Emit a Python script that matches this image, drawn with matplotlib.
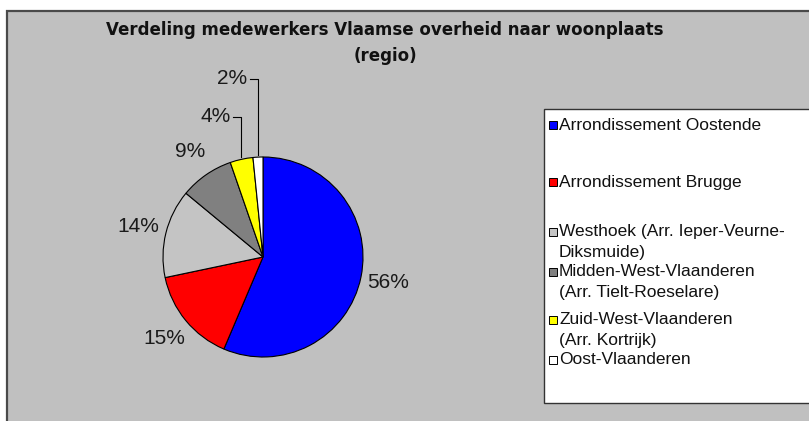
import numpy as np
import matplotlib
matplotlib.use("Agg")
import matplotlib.pyplot as plt
from matplotlib.patches import Rectangle

# data
regions = ["Arrondissement Oostende", "Arrondissement Brugge",
           "Westhoek (Arr. Ieper-Veurne-\nDiksmuide)",
           "Midden-West-Vlaanderen\n(Arr. Tielt-Roeselare)",
           "Zuid-West-Vlaanderen\n(Arr. Kortrijk)", "Oost-Vlaanderen"]
shares = [56.4, 15.3, 14.3, 8.7, 3.7, 1.6]
colors = ["#0000ff", "#ff0000", "#c4c4c4", "#808080", "#ffff00", "#ffffff"]
title1 = "Verdeling medewerkers Vlaamse overheid naar woonplaats"
title2 = "(regio)"

W, H = 809, 421
fig = plt.figure(figsize=(W / 100, H / 100), dpi=100)
fig.patch.set_facecolor("white")

def fx(px):
    return px / W

def fy(py):
    return 1 - py / H

# chart area frame (gray, cut at right/bottom)
fig.patches.append(Rectangle((fx(6.5), fy(430)), fx(820), (430 - 10.5) / H,
                             transform=fig.transFigure, facecolor="#c0c0c0",
                             edgecolor="#4a4a4a", linewidth=1.6, zorder=-5))

fig.text(fx(385), fy(30), title1, ha="center", va="center",
         fontsize=12, fontweight="bold", family="DejaVu Sans", color="#111111")
fig.text(fx(385), fy(56), title2, ha="center", va="center",
         fontsize=12, fontweight="bold", family="DejaVu Sans", color="#111111")

# pie axes: centre at (263, 257) px, radius 100 px
cx, cy, lim = 263, 257, 1.8
ax = fig.add_axes([fx(cx - lim * 100), 1 - (cy + lim * 100) / H,
                   lim * 200 / W, lim * 200 / H], zorder=2)
ax.patch.set_visible(False)

wedges, texts = ax.pie(shares, colors=colors, startangle=90, counterclock=False,
                       radius=1.0, wedgeprops=dict(edgecolor="black", linewidth=0.8))
ax.set_xlim(-lim, lim)
ax.set_ylim(-lim, lim)
ax.set_aspect("equal")
ax.axis("off")

label_font = dict(family="Liberation Sans", fontsize=15, color="#1a1a1a")
# label heights for the small slices with leader lines
leader_y = {4: 1.40, 5: 1.78}
for i, w in enumerate(wedges):
    mid = np.deg2rad((w.theta1 + w.theta2) / 2)
    txt = f"{round(shares[i]):d}%"
    if i in leader_y:
        x0, y0 = np.cos(mid), np.sin(mid) * 1.02
        ly = leader_y[i]
        ax.plot([x0, x0, x0 - 0.08], [y0, ly, ly], color="black", lw=0.8)
        ax.text(x0 - 0.11, ly, txt, ha="right", va="center", **label_font)
    else:
        ax.text(1.28 * np.cos(mid), 1.28 * np.sin(mid), txt,
                ha="center", va="center", **label_font)

# legend box (cut at right edge)
fig.patches.append(Rectangle((fx(543.5), fy(402.5)), fx(300), (402.5 - 108.5) / H,
                             transform=fig.transFigure, facecolor="white",
                             edgecolor="#333333", linewidth=1.0, zorder=1))
row_y = [125, 182, 232, 272, 320, 360]
for i, name in enumerate(regions):
    y = row_y[i]
    fig.patches.append(Rectangle((fx(548.5), fy(y + 4)), fx(8), 8 / H,
                                 transform=fig.transFigure, facecolor=colors[i],
                                 edgecolor="black", linewidth=0.7, zorder=2))
    for j, line in enumerate(name.split("\n")):
        fig.text(fx(559), fy(y + 20.5 * j), line, ha="left", va="center",
                 family="Liberation Sans", fontsize=12.5, color="#111111", zorder=3)

fig.savefig("out.png", dpi=100, facecolor=fig.get_facecolor())
